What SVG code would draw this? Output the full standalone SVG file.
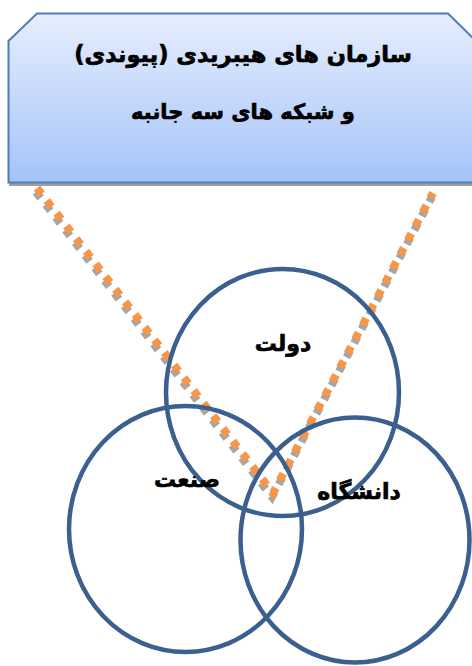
<svg xmlns="http://www.w3.org/2000/svg" width="472" height="666" viewBox="0 0 472 666">
<style>
.t{font-family:"DejaVu Sans","Noto Sans",sans-serif;font-weight:bold;font-size:22px;fill:#000;stroke:#000;stroke-width:0.7;text-anchor:middle;direction:rtl}
.c{fill:none;stroke:#3b5f8e;stroke-width:4.5}
.dot{fill:none;stroke:#f79646;stroke-width:8;stroke-dasharray:7.5 8.5}
.sh{fill:none;stroke:#a6a6a6;stroke-width:8;stroke-dasharray:7.5 8.5}
</style>
<defs>
<linearGradient id="g" x1="0" y1="0" x2="0" y2="1">
<stop offset="0" stop-color="#e6eefd"/>
<stop offset="1" stop-color="#a5c3f9"/>
</linearGradient>
</defs>
<rect width="472" height="666" fill="#fff"/>
<g id="box">
<path d="M37,16 L449,16 L476,43 L476,186 L9,186 L9,44 Z" fill="#9e9e9e"/>
<path d="M37,13.5 L448,13.5 L475,40 L475,182.5 L8.5,182.5 L8.5,41 Z" fill="url(#g)" stroke="#4a7ebb" stroke-width="2"/>
<text class="t" x="243" y="62" style="font-size:22.5px">سازمان های هیبریدی (پیوندی)</text>
<text class="t" x="243" y="119" style="font-size:21px">و شبکه های سه جانبه</text>
</g>
<g id="connectors">
<path class="sh" transform="translate(-1,4)" d="M37,188 L273,493 L433,193"/>
<path class="dot" d="M37,188 L273,493 L433,193"/>
</g>
<g id="dowlat">
<ellipse class="c" cx="282.5" cy="392.5" rx="116.5" ry="123.5"/>
<text class="t" x="283" y="351">دولت</text>
</g>
<g id="sanat">
<ellipse class="c" cx="185.5" cy="529" rx="116.5" ry="123"/>
<text class="t" x="187" y="487">صنعت</text>
</g>
<g id="daneshgah">
<ellipse class="c" cx="355" cy="540" rx="114.5" ry="122.5"/>
<text class="t" x="359" y="499">دانشگاه</text>
</g>
</svg>
